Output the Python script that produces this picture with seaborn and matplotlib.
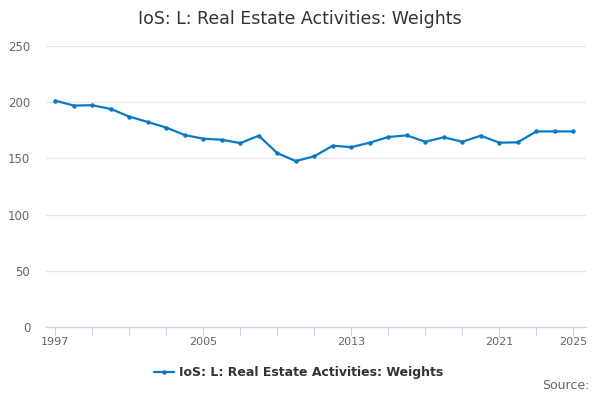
import matplotlib
matplotlib.use("Agg")
import matplotlib.pyplot as plt
import seaborn as sns
import pandas as pd

years = list(range(1997, 2026))
weights = [201.4, 197.0, 197.3, 194.0, 187.2, 182.4, 177.4, 170.8, 167.5, 166.6,
           163.6, 170.2, 154.7, 147.6, 151.9, 161.3, 160.0, 164.0, 169.0, 170.5,
           164.8, 168.8, 164.8, 170.2, 164.0, 164.3, 174.0, 174.0, 174.0]
series_name = "IoS: L: Real Estate Activities: Weights"
tick_years = list(range(1997, 2026, 2))
label_years = [1997, 2005, 2013, 2021, 2025]

df = pd.DataFrame({"year": years, "value": weights})

sns.set_style("white")
plt.rcParams["font.family"] = ["DejaVu Sans"]

fig = plt.figure(figsize=(6, 4), dpi=100)
ax = fig.add_axes([0.077, 0.1825, 0.9, 0.7025])

sns.lineplot(data=df, x="year", y="value", ax=ax, color="#0a7ac4", linewidth=1.6,
             marker="o", markersize=3.2, markeredgewidth=0, label=series_name)

ax.set_xlim(1996.51, 2025.7)
ax.set_ylim(0, 250)
ax.set_yticks([0, 50, 100, 150, 200, 250])
ax.yaxis.grid(True, color="#e6e6e6", linewidth=1)
ax.set_axisbelow(True)
ax.tick_params(axis="y", left=False, length=0, labelsize=8.5, labelcolor="#666666", pad=11.5)

ax.set_xticks(tick_years)
ax.set_xticklabels([str(y) if y in label_years else "" for y in tick_years])
ax.tick_params(axis="x", bottom=True, direction="out", length=6.5, width=0.8, color="#ccd6eb",
               labelsize=8, labelcolor="#666666", pad=1)

for side in ["top", "right", "left"]:
    ax.spines[side].set_visible(False)
ax.spines["bottom"].set_color("#ccd6eb")
ax.spines["bottom"].set_linewidth(1)

ax.set_xlabel("")
ax.set_ylabel("")

fig.suptitle(series_name, x=0.5, y=0.975, fontsize=12.5, color="#333333")

leg = ax.legend(loc="center", bbox_to_anchor=(0.497, 0.068), bbox_transform=fig.transFigure,
                frameon=False, fontsize=9, handlelength=1.6, handletextpad=0.4)
for t in leg.get_texts():
    t.set_color("#333333")
    t.set_fontweight("bold")

fig.text(0.982, 0.02, "Source:", ha="right", va="bottom", fontsize=9, color="#666666")

fig.savefig("out.png", dpi=100)
